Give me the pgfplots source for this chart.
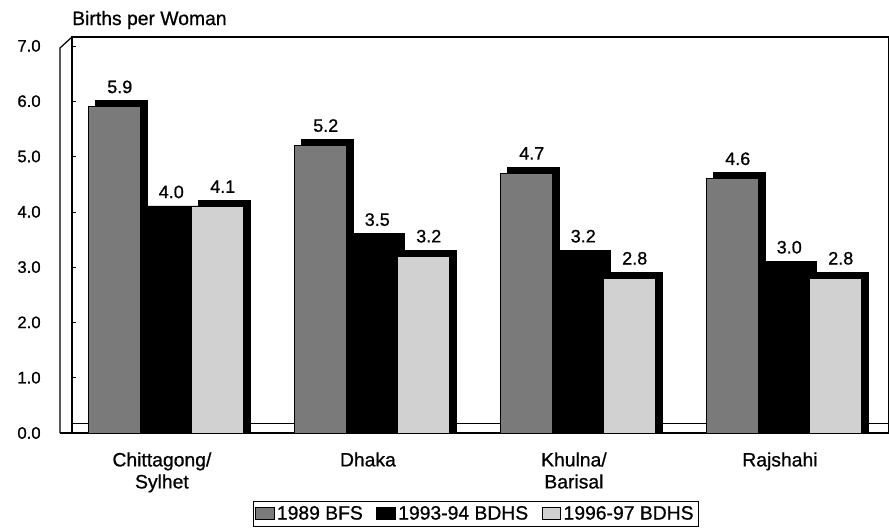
\documentclass[border=0pt]{standalone}
\usepackage{pgfplots}
\pgfplotsset{compat=1.18}
\usepackage{fontspec}
\setmainfont{Liberation Sans}[FakeBold=0.8,AutoFakeBold=0.8]
\definecolor{barA}{gray}{0.48}
\definecolor{barC}{gray}{0.82}
\pgfplotstableread{
x a b c
0 5.9 4.0 4.1
1 5.2 3.5 3.2
2 4.7 3.2 2.8
3 4.6 3.0 2.8
}\births
\begin{document}
\begin{tikzpicture}
\begin{axis}[name=ax, scale only axis, width=612.75pt, height=297pt, clip=false,
  xmin=-0.456, xmax=3.51, ymin=0, ymax=7.16,
  ybar, bar width=0.25,
  xtick={0,1,2,3},
  xticklabels={Chittagong/\\Sylhet, Dhaka, Khulna/\\Barisal, Rajshahi},
  xticklabel style={align=center, font=\fontsize{14.5}{16.5}\selectfont\bfseries, yshift=-11pt, xshift=-3pt},
  ytick={0,1,2,3,4,5,6,7},
  yticklabel style={font=\fontsize{12.5}{14}\selectfont\bfseries, xshift=-20pt, /pgf/number format/.cd, fixed, fixed zerofill, precision=1},
  /pgf/number format/assume math mode=true,
  xtick style={draw=none},
  ytick pos=left, tick align=inside, major tick length=3pt,
  tick style={black, thin},
  axis line style={black, line width=0.9pt},
  legend columns=3,
  legend style={at={(0.494,-0.1717)}, anchor=north, draw=black, line width=0.6pt,
    font=\fontsize{14.5}{16}\selectfont\bfseries, inner sep=1.5pt,
    /tikz/every even column/.append style={column sep=8pt}},
  legend image code/.code={\draw[#1,draw=black,line width=0.5pt] (0pt,-4.5pt) rectangle (14pt,5pt);},
  every node near coord/.append style={font=\fontsize{13.5}{15}\selectfont\bfseries, xshift=4pt, yshift=6.5pt, black,
    /pgf/number format/.cd, fixed, fixed zerofill, precision=1},
]
% back floor line
\draw[black, line width=0.5pt] ([yshift=7.5pt]rel axis cs:0,0) -- ([yshift=7.5pt]rel axis cs:1,0);
% shadows (3D depth)
\addplot[fill=black, draw=black, bar shift=-0.25, xshift=5.25pt, yshift=4.5pt, forget plot] table[x=x, y=a] {\births};
\addplot[fill=black, draw=black, bar shift=0, xshift=5.25pt, yshift=4.5pt, forget plot] table[x=x, y=b] {\births};
\addplot[fill=black, draw=black, bar shift=0.25, xshift=5.25pt, yshift=4.5pt, forget plot] table[x=x, y=c] {\births};
\addplot[fill=black, draw=black, bar shift=0.25, xshift=5.25pt, forget plot] table[x=x, y=c] {\births};
% front faces
\addplot[fill=barA, draw=black, line width=0.5pt, bar shift=-0.25, nodes near coords] table[x=x, y=a] {\births};
\addplot[fill=black, draw=black, line width=0.5pt, bar shift=0, nodes near coords] table[x=x, y=b] {\births};
\addplot[fill=barC, draw=black, line width=0.5pt, bar shift=0.25, nodes near coords] table[x=x, y=c] {\births};
\legend{1989 BFS, 1993-94 BDHS, 1996-97 BDHS}
% left 3D wall
\draw[black, line width=0.9pt] ([xshift=-9pt]rel axis cs:0,0) -- ([xshift=-9pt,yshift=-8.25pt]rel axis cs:0,1) -- (rel axis cs:0,1);
\draw[black, line width=0.9pt] ([xshift=-9pt]rel axis cs:0,0) -- (rel axis cs:0,0);
\node[anchor=base west, font=\fontsize{14.5}{16}\selectfont\bfseries, inner sep=0pt] at ([xshift=0pt, yshift=9pt]rel axis cs:0,1) {Births per Woman};
\end{axis}
\pgfresetboundingbox
\path[use as bounding box] ([xshift=-54pt,yshift=-73.5pt]ax.south west) rectangle ([yshift=27.75pt]ax.north east);
\end{tikzpicture}
\end{document}
